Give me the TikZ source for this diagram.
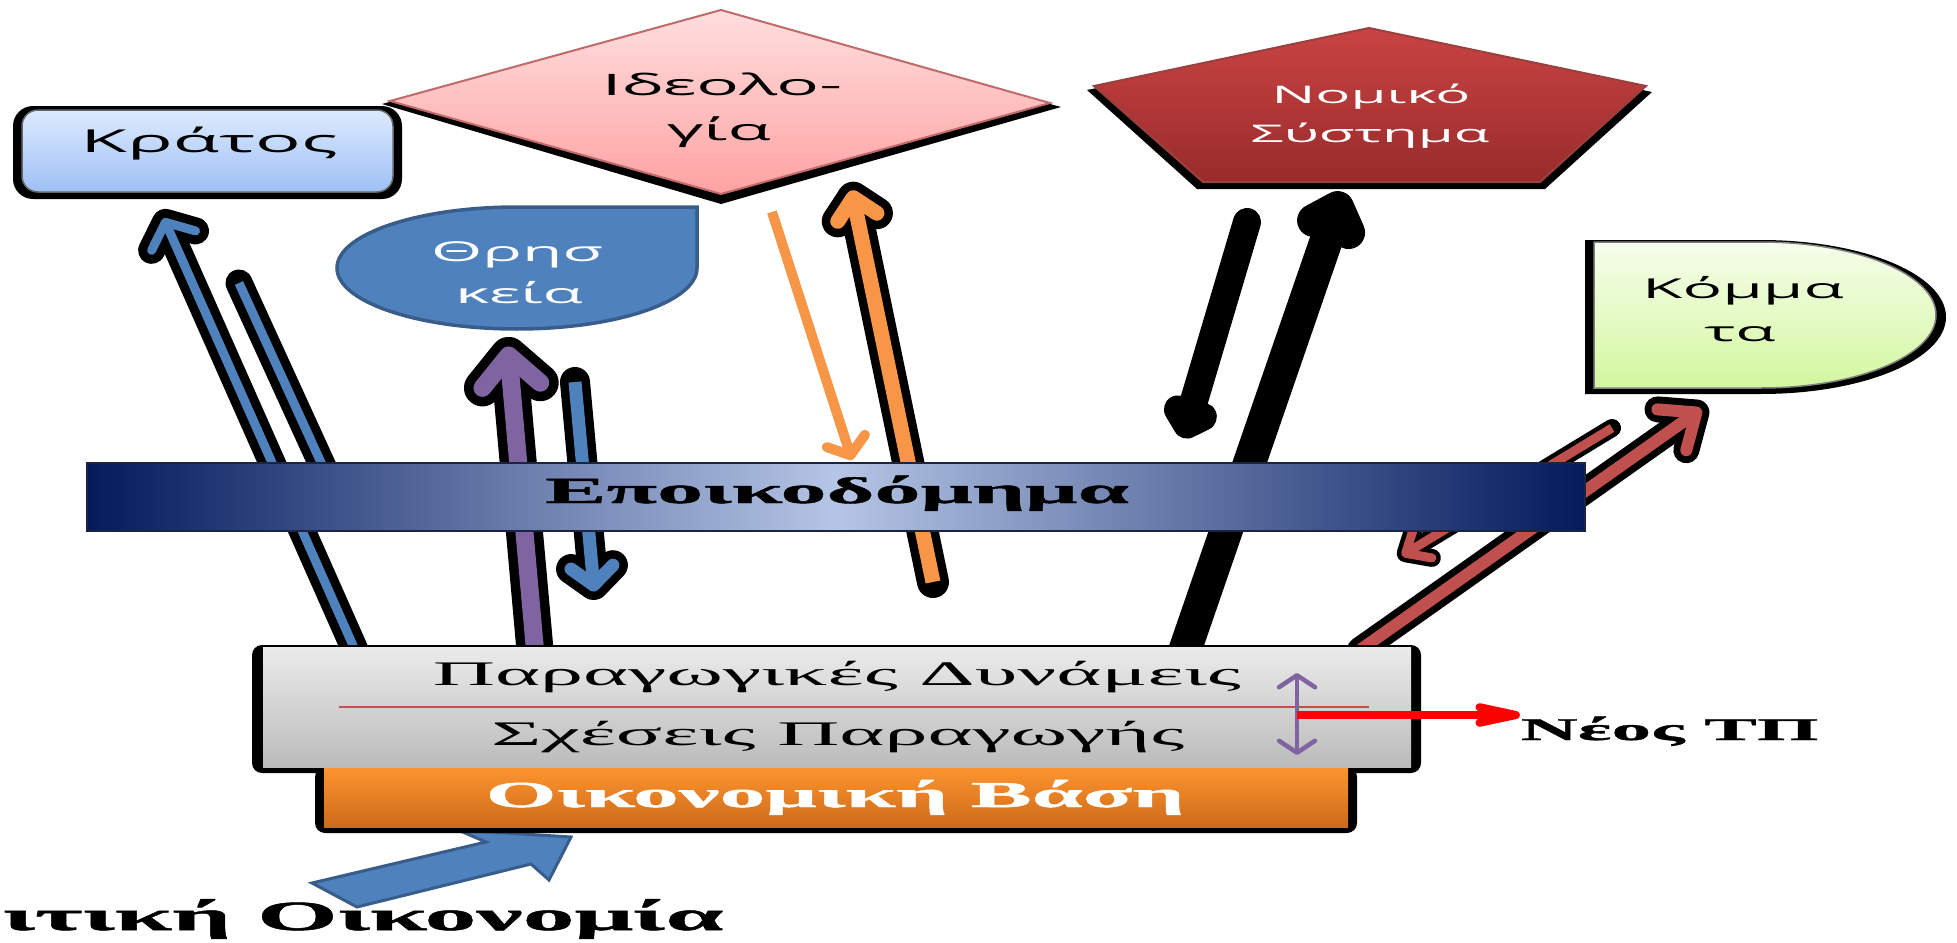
\documentclass[tikz,border=0pt]{standalone}
\usepackage{fontspec}
\setmainfont{Liberation Serif}
\newfontfamily\shapefont[FakeStretch=2.4]{Open Sans}
\newfontfamily\layerfont[FakeStretch=2.5]{Liberation Serif}
\newfontfamily\heavyfont[FakeStretch=2.5, FakeBold=1.2]{Liberation Serif}
\usetikzlibrary{arrows.meta}

\definecolor{offblue}{HTML}{4F81BD}
\definecolor{offpurple}{HTML}{8064A2}
\definecolor{offorange}{HTML}{F79646}
\definecolor{offred}{HTML}{C0504D}
\definecolor{tearedge}{HTML}{385D8A}
\definecolor{statetop}{HTML}{DDEAFE}
\definecolor{statebot}{HTML}{9EC0F5}
\definecolor{ideotop}{HTML}{FFDEDE}
\definecolor{ideobot}{HTML}{FFA2A2}
\definecolor{ideoedge}{HTML}{C06A6A}
\definecolor{lawtop}{HTML}{CA4343}
\definecolor{lawbot}{HTML}{992B2B}
\definecolor{partytop}{HTML}{F6FEEC}
\definecolor{partybot}{HTML}{D3F79F}
\definecolor{greytop}{HTML}{EBEBEB}
\definecolor{greybot}{HTML}{BBBBBB}
\definecolor{basetop}{HTML}{FC952F}
\definecolor{basebot}{HTML}{CD6A1A}
\definecolor{bandnavy}{HTML}{031A5C}
\definecolor{bandlight}{HTML}{B5C5E6}
\definecolor{bandedge}{HTML}{1C2440}

\tikzset{
  rim/.style={draw=black, line width=#1, line cap=round, line join=round},
  core/.style 2 args={line width=#1, shorten >=#2, line join=round},
  barb/.style 2 args={-{Straight Barb[round, length=#1, width=#2]}},
  shapelabel/.style={font=\shapefont\fontsize{#1}{#1}\selectfont, inner sep=0pt, anchor=base},
  layerlabel/.style={font=\layerfont\fontsize{#1}{#1}\selectfont, inner sep=0pt, anchor=base},
  heavylabel/.style={font=\heavyfont\bfseries\fontsize{#1}{#1}\selectfont, inner sep=0pt, anchor=base},
}

\begin{document}
\begin{tikzpicture}[x=0.1mm, y=-0.1mm]
 \useasboundingbox (0,0) rectangle (1957,943);

 % the shapes on top
 \fill[black, rounded corners=2mm] (13,106) rectangle (402,199);
 \shadedraw[top color=statetop, bottom color=statebot, draw=black!60, line width=0.15mm, rounded corners=1.6mm] (22,110) rectangle (393,192);
 \fill[black] (721,14) -- (1061,107) -- (721,204) -- (382,104) -- cycle;
 \shadedraw[top color=ideotop, bottom color=ideobot, draw=ideoedge, line width=0.2mm] (721,10) -- (1050,103) -- (721,194) -- (390,101) -- cycle;
 \filldraw[fill=offblue, draw=tearedge, line width=0.35mm] (697,207) -- (697,268) arc[start angle=0, end angle=270, x radius=180, y radius=61] -- cycle;
 \fill[black] (1369,32) -- (1652,92) -- (1545,189) -- (1197,189) -- (1087,90) -- cycle;
 \shadedraw[top color=lawtop, bottom color=lawbot, draw=offred!80!black, line width=0.2mm] (1369,28) -- (1646,86) -- (1540,182) -- (1203,182) -- (1094,86) -- cycle;
 \fill[black] (1585,240) -- (1761,240) arc[start angle=270, end angle=450, x radius=185, y radius=77] -- (1585,394) -- cycle;
 \shadedraw[top color=partytop, bottom color=partybot, draw=black!50, line width=0.15mm] (1594,242) -- (1761,242) arc[start angle=270, end angle=450, x radius=175, y radius=73] -- (1594,388) -- cycle;

 \node[shapelabel=9] (state) at (209,152) {Κράτος};
 \node[shapelabel=8.4] (ideo1) at (722,95) {Ιδεολο-};
 \node[shapelabel=8.4] (ideo2) at (719,140) {γία};
 \node[shapelabel=7.8, text=white] (relig1) at (517,262) {Θρησ};
 \node[shapelabel=7.8, text=white] (relig2) at (519,303) {κεία};
 \node[shapelabel=6.9, text=white] (law1) at (1371,103) {Νομικό};
 \node[shapelabel=6.9, text=white] (law2) at (1370,142) {Σύστημα};
 \node[shapelabel=7.8] (party1) at (1743,298) {Κόμμα};
 \node[shapelabel=7.8] (party2) at (1740,341) {τα};

 % arrow ends
 \coordinate (kfoot) at (355,650);  \coordinate (ktip) at (160,210);
 \coordinate (k2top) at (239,283);  \coordinate (k2end) at (345,515);
 \coordinate (rfoot) at (535,650);  \coordinate (rtip) at (507,337);
 \coordinate (r2top) at (575,382);  \coordinate (r2tip) at (595,600);
 \coordinate (i1top) at (772,212);  \coordinate (i1tip) at (852,460);
 \coordinate (i2foot) at (933,582); \coordinate (i2tip) at (850,182);
 \coordinate (l1top) at (1247,222); \coordinate (l1tip) at (1183,438);
 \coordinate (l2foot) at (1185,650); \coordinate (l2tip) at (1343,192);
 \coordinate (p1foot) at (1360,650); \coordinate (p1tip) at (1707,405);
 \coordinate (p2top) at (1612,428); \coordinate (p2tip) at (1398,558);

 \filldraw[fill=offblue, draw=tearedge, line width=0.3mm] (312,883) -- (486,842) -- (458,830) -- (571,837) -- (549,880) -- (531,864) -- (357,907) -- cycle;

 \draw[rim=2.7mm, barb={2mm}{4.8mm}] (kfoot) -- (ktip);
 \draw[offblue, core={0.9mm}{0.9mm}, barb={2mm}{4.8mm}] (kfoot) -- (ktip);
 \draw[rim=2.7mm] (k2top) -- (k2end);
 \draw[offblue, core={0.9mm}{0mm}] (k2top) -- (k2end);
 \draw[rim=3.7mm, barb={3mm}{5.8mm}] (rfoot) -- (rtip);
 \draw[offpurple, core={1.8mm}{0.95mm}, barb={3mm}{5.8mm}] (rfoot) -- (rtip);
 \draw[rim=3mm, barb={1.8mm}{4.2mm}] (r2top) -- (r2tip);
 \draw[offblue, core={1.3mm}{0.85mm}, barb={1.8mm}{4.2mm}] (r2top) -- (r2tip);
 \draw[offorange, line width=1mm, barb={1.5mm}{4mm}] (i1top) -- (i1tip);
 \draw[rim=3.2mm, barb={2mm}{4mm}] (i2foot) -- (i2tip);
 \draw[offorange, core={1.5mm}{0.85mm}, barb={2mm}{4mm}] (i2foot) -- (i2tip);
 \draw[rim=2.8mm, barb={1.2mm}{2.6mm}] (l1top) -- (l1tip);
 \draw[rim=3.3mm, barb={2mm}{3.7mm}] (l2foot) -- (l2tip);
 \draw[rim=2.6mm, barb={3mm}{5mm}] (p1foot) -- (p1tip);
 \draw[offred, core={1.2mm}{0.7mm}, barb={3mm}{5mm}] (p1foot) -- (p1tip);
 \draw[rim=1.8mm, barb={2mm}{3.5mm}] (p2top) -- (p2tip);
 \draw[offred, core={0.9mm}{0.45mm}, barb={2mm}{3.5mm}] (p2top) -- (p2tip);

 % superstructure band
 \shade[left color=bandnavy, right color=bandnavy, middle color=bandlight] (87,463) rectangle (1585,531);
 \draw[bandedge, line width=0.25mm] (87,463) rectangle (1585,531);
 \node[heavylabel=10.5] (super) at (837,503) {Εποικοδόμημα};

 % base
 \fill[black, rounded corners=1mm] (252,645) rectangle (1421,773);
 \fill[black, rounded corners=1mm] (315,767) rectangle (1357,833);
 \shade[top color=basetop, bottom color=basebot] (324,767) rectangle (1348,827);
 \shade[top color=greytop, bottom color=greybot] (263,647) rectangle (1411,767);
 \coordinate (sepL) at (339,707); \coordinate (sepR) at (1369,707);
 \draw[offred, line width=0.25mm] (sepL) -- (sepR);
 \node[layerlabel=9.8] (forces) at (837,685) {Παραγωγικές Δυνάμεις};
 \node[layerlabel=9.8] (relations) at (838,745) {Σχέσεις Παραγωγής};
 \node[heavylabel=10.4, text=white] (basis) at (835,807) {Οικονομική Βάση};

 \coordinate (dup) at (1297,673); \coordinate (ddown) at (1297,755);
 \draw[offpurple, line width=0.45mm, {Straight Barb[round, length=1.2mm, width=3.6mm]}-{Straight Barb[round, length=1.2mm, width=3.6mm]}] (dup) -- (ddown);
 \coordinate (nstart) at (1297,715); \coordinate (nend) at (1520,715);
 \draw[red, line width=0.8mm, -{Stealth[round, length=8mm, width=3.4mm, inset=3mm]}] (nstart) -- (nend);
 \node[heavylabel=9, anchor=base west] (newmode) at (1520,740) {Νέος ΤΠ};
 \node[heavylabel=11.8, anchor=base west] (polecon) at (2,930) {ιτική Οικονομία};
\end{tikzpicture}
\end{document}
